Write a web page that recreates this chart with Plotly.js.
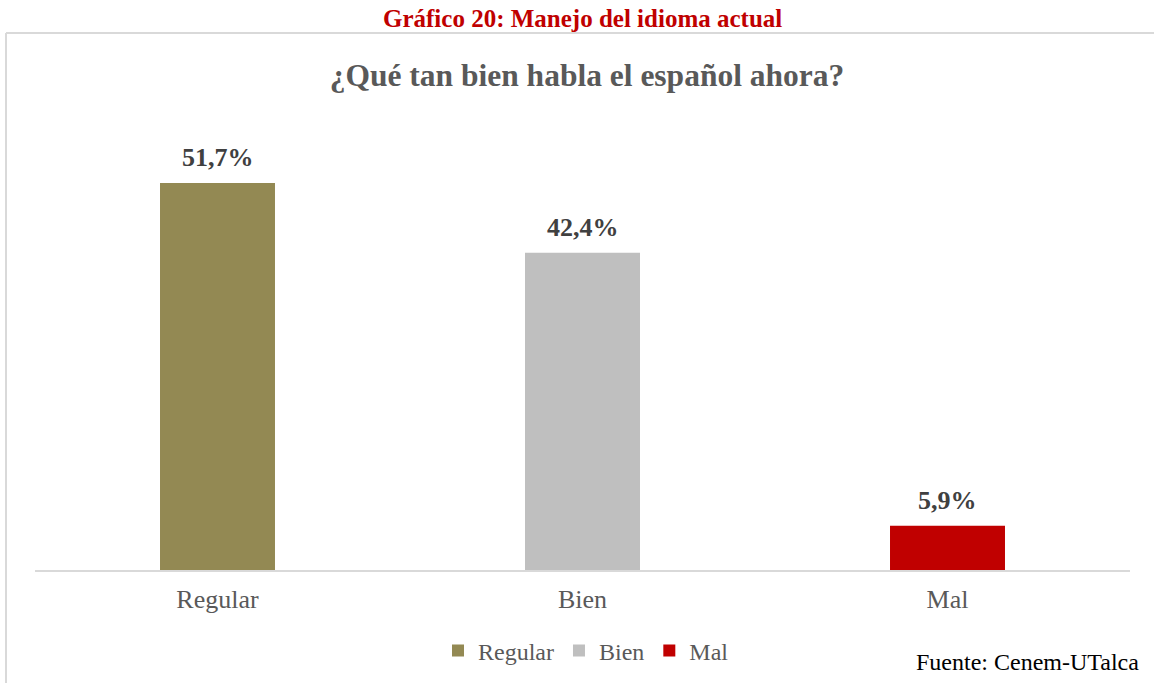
<!DOCTYPE html>
<html>
<head>
<meta charset="utf-8">
<script src="https://cdn.plot.ly/plotly-3.0.1.min.js"></script>
<style>
html,body{margin:0;padding:0;background:#fff;}
#chart{width:1154px;height:683px;}
</style>
</head>
<body>
<div id="chart"></div>
<script>
const categories = ["Regular", "Bien", "Mal"];
const values = [51.7, 42.4, 5.9];
const labels = ["51,7%", "42,4%", "5,9%"];
const colors = ["#938953", "#bfbfbf", "#c00000"];
const figureTitle = "Gráfico 20: Manejo del idioma actual";
const chartTitle = "¿Qué tan bien habla el español ahora?";
const sourceText = "Fuente: Cenem-UTalca";

const FONT = "Liberation Serif, Cambria, serif";
const W = 1154, H = 683;
const mL = 35, mR = 24, mT = 121, mB = 113;
const pw = W - mL - mR, ph = H - mT - mB;
const px = x => (x - mL) / pw;
const py = y => (H - mB - y) / ph;

const traces = categories.map((c, i) => ({
  type: "bar",
  name: c,
  x: [c],
  y: [values[i]],
  marker: {color: colors[i]},
  hoverinfo: "skip"
}));

const labelAnnotations = categories.map((c, i) => ({
  text: "<b>" + labels[i] + "</b>",
  xref: "x", yref: "y", x: c, y: values[i],
  xanchor: "center", yanchor: "bottom", yshift: 9,
  showarrow: false,
  font: {family: FONT, size: 26, color: "#404040"}
}));

const layout = {
  width: W, height: H,
  margin: {l: mL, r: mR, t: mT, b: mB, autoexpand: false},
  paper_bgcolor: "#fff", plot_bgcolor: "#fff",
  barmode: "overlay",
  bargap: 0.685,
  showlegend: true,
  font: {family: FONT},
  title: {
    text: "<b>" + chartTitle + "</b>",
    font: {family: FONT, size: 31.5, color: "#595959"},
    x: 587 / W, xref: "container", xanchor: "center",
    y: 1 - 75 / H, yref: "container", yanchor: "middle"
  },
  xaxis: {
    type: "category",
    categoryorder: "array", categoryarray: categories,
    showline: true, linecolor: "#d9d9d9", linewidth: 2,
    showgrid: false, zeroline: false,
    ticks: "outside", ticklen: 5, tickcolor: "rgba(0,0,0,0)",
    tickfont: {family: FONT, size: 26, color: "#595959"}
  },
  yaxis: {
    range: [0, 60], visible: false, showgrid: false, zeroline: false
  },
  legend: {
    orientation: "h", x: px(586), xanchor: "center",
    y: py(651), yanchor: "middle",
    font: {family: FONT, size: 24, color: "#595959"},
    traceorder: "normal", itemwidth: 30
  },
  shapes: [
    {type: "line", xref: "paper", yref: "paper", x0: px(6), x1: px(1160), y0: py(33), y1: py(33), line: {color: "#d9d9d9", width: 2}},
    {type: "line", xref: "paper", yref: "paper", x0: px(6), x1: px(6), y0: py(33), y1: py(690), line: {color: "#d9d9d9", width: 2}}
  ],
  annotations: labelAnnotations.concat([
    {text: "<b>" + figureTitle + "</b>", xref: "paper", yref: "paper", x: px(582), y: py(18), xanchor: "center", yanchor: "middle", showarrow: false, font: {family: FONT, size: 25, color: "#c00000"}},
    {text: sourceText, xref: "paper", yref: "paper", x: px(1141), y: py(662), xanchor: "right", yanchor: "middle", showarrow: false, font: {family: FONT, size: 24, color: "#000"}}
  ])
};

Plotly.newPlot("chart", traces, layout, {displayModeBar: false, staticPlot: true});
</script>
</body>
</html>
